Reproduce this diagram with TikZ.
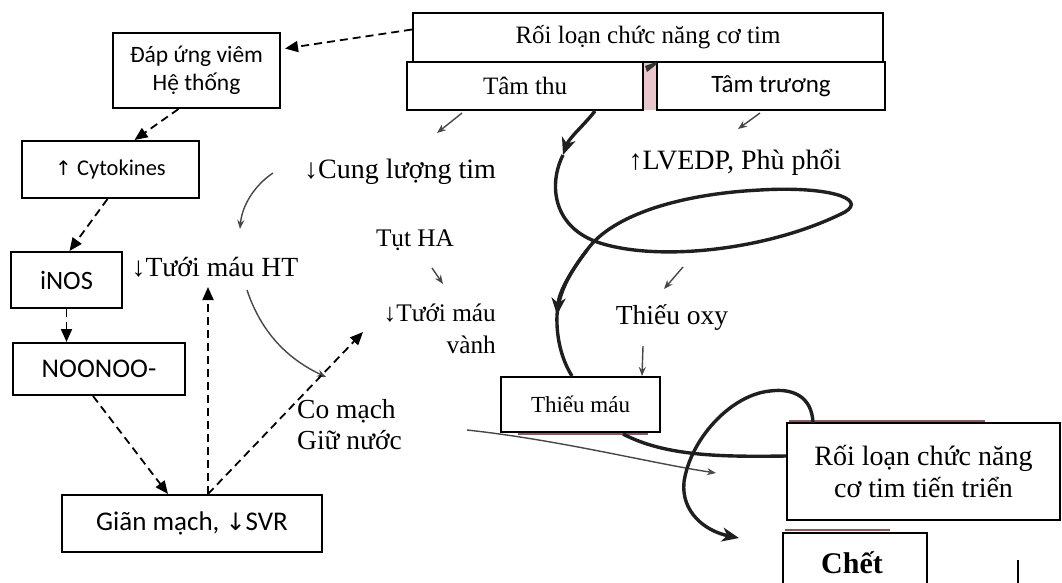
\documentclass[tikz,border=0pt]{standalone}
\usepackage{fontspec}
\setmainfont{Liberation Serif}
\setsansfont{Carlito}
\newfontfamily\symf{DejaVu Sans}
\usetikzlibrary{arrows.meta}
\definecolor{pinkc}{HTML}{E8C6CB}
\definecolor{shadowc}{HTML}{8A5A60}
\newcommand{\fsz}[1]{\fontsize{#1}{#1}\selectfont}
\begin{document}
\begin{tikzpicture}[x=1pt,y=-1pt,
 box/.style={draw=black,line width=2pt,fill=white,inner sep=0pt,align=center},
 lbl/.style={inner sep=1pt,align=center},
 dasharrow/.style={draw=black,line width=1.8pt,dash pattern=on 8pt off 5pt,-{Triangle[length=13pt,width=11pt]}},
 thinarrow/.style={draw=black!72,line width=1.4pt,-{Stealth[length=9pt,width=7pt]}},
 thickline/.style={draw=black!88,line width=3.4pt},
 thicktip/.style={thickline,-{Stealth[length=17pt,width=14pt,inset=5pt]}},
 ]
\clip (0,0) rectangle (1062,582);
\fill[white] (0,0) rectangle (1062,582);

% top boxes
\fill[pinkc] (643,62) rectangle (657,110);
\node[box,font=\fsz{25},minimum width=470pt,minimum height=49pt] (top) at (648,37.5) {Rối loạn chức năng cơ tim};
\node[box,font=\fsz{25},minimum width=236pt,minimum height=48pt] (sys) at (525,86) {Tâm thu};
\node[box,font=\sffamily\fsz{25},minimum width=228pt,minimum height=48pt] (dia) at (771,86) {Tâm trương};
\fill[black!80] (647,72) -- (645,66) -- (656,62) -- (657,64) -- cycle;

% left column
\node[box,font=\sffamily\fontsize{23.5}{28}\selectfont,minimum width=167pt,minimum height=75pt] (dap) at (196.5,70.5) {Đáp ứng viêm\\Hệ thống};
\node[box,font=\sffamily\fsz{22.5},minimum width=177pt,minimum height=57pt] (cyto) at (110.5,169.5) {{\symf\fsz{20}↑} Cytokines};
\node[box,font=\sffamily\fsz{26.5},minimum width=111pt,minimum height=56pt] (inos) at (66.5,280) {iNOS};
\node[box,font=\sffamily\fsz{27},minimum width=172pt,minimum height=52pt] (noo) at (99,369) {NOONOO-};
\node[box,font=\sffamily\fsz{27},minimum width=260pt,minimum height=57pt] (gian) at (192,523.5) {Giãn mạch, {\symf\fsz{24}↓}SVR};

% middle labels
\node[lbl,font=\fsz{28}] (cung) at (400,172) {↓Cung lượng tim};
\node[lbl,font=\fsz{25.3}] (tut) at (415,240) {Tụt HA};
\node[lbl,font=\fsz{27.7}] (tmht) at (215,267) {↓Tưới máu HT};
\node[lbl,align=right,anchor=east,font=\fontsize{25.3}{32}\selectfont] (tmv) at (497,329) {↓Tưới máu\\vành};
\node[lbl,align=left,anchor=west,font=\fontsize{27.5}{31}\selectfont] (comach) at (296,425) {Co mạch\\Giữ nước};
\node[lbl,font=\fsz{28}] (lvedp) at (735,162) {↑LVEDP, Phù phổi};
\node[lbl,font=\fsz{27.5}] (oxy) at (672,318) {Thiếu oxy};

% right boxes
\draw[shadowc,line width=2pt] (518,434) -- (648,434);
\node[box,font=\fsz{23},minimum width=159pt,minimum height=55pt] (tmau) at (580.5,404.5) {Thiếu máu};
\draw[shadowc,line width=2pt] (789,421) -- (985,421);
\draw[shadowc,line width=2pt] (785,530) -- (890,530);

% thick curve (part 1): Tam thu -> loop -> Thieu mau
\coordinate (s1) at (595,111);
\coordinate (m1) at (563,155);
\coordinate (m2) at (557,315);
\draw[thicktip] (s1) .. controls (585,124) and (569,138) .. (m1);
\draw[thickline] (m1) .. controls (548,185) and (553,228) .. (600,243)
   .. controls (660,262) and (770,250) .. (845,212)
   .. controls (868,198) and (825,186) .. (760,190)
   .. controls (680,194) and (612,215) .. (587,250)
   .. controls (568,275) and (559,293) .. (m2);
\draw[thicktip] (587,250) .. controls (568,275) and (559,293) .. (m2);
\draw[thickline] (m2) .. controls (556,340) and (563,362) .. (tmau.north -| 572,0);

% thin arrows
\draw[thinarrow] (462,113) -- (437,133);
\draw[thinarrow] (760,113) -- (738,129);
\draw[thinarrow] (273,173) .. controls (255,185) and (242,205) .. (240,229);
\draw[thinarrow] (247,290) .. controls (262,335) and (290,360) .. (326,377);
\draw[thinarrow] (432,268) -- (443,284);
\draw[thinarrow] (683,267) -- (664,289);
\draw[thinarrow] (643,346) -- (642,376);

% dashed arrows
\draw[dasharrow] ([yshift=8pt]top.west) -- ([yshift=22pt,xshift=4pt]dap.east);
\draw[dasharrow] ([xshift=-18pt]dap.south) -- ([xshift=24pt]cyto.north);
\draw[dasharrow] ([xshift=-3pt]cyto.south) -- ([xshift=3pt]inos.north);
\draw[dasharrow] (inos.south) -- (inos.south |- noo.north);
\draw[dasharrow] ([xshift=-6pt]noo.south) -- ([xshift=-24pt]gian.north);
\coordinate (gtop) at ([xshift=16pt]gian.north);
\draw[dasharrow] (gtop) -- (gtop |- 0,287);
\draw[dasharrow] (gtop) -- (363,332);

\node[box,minimum width=273pt,minimum height=97pt,font=\fontsize{28}{32}\selectfont] (prog) at (923.5,471.5) {Rối loạn chức năng\\cơ tim tiến triển};

% long thin arrow to prog
\coordinate (lstart) at (467,430);
\draw[thinarrow] (lstart) .. controls (560,440) and (650,463) .. (716,473);

% thick curve part 2: Thieu mau -> prog
\draw[thickline] (623,434) .. controls (665,456) and (720,457) .. (prog.west |- 0,456);
% thick curve part 3: prog -> Chet
\draw[thicktip] (813,423) .. controls (812,396) and (792,388) .. (770,391)
   .. controls (730,395) and (690,440) .. (684,482)
   .. controls (681,512) and (705,531) .. (739,538);

\node[box,minimum width=144pt,minimum height=70pt,anchor=north] (chet) at (855,532) {};
\node[lbl,font=\bfseries\fsz{30}] (chettext) at (852,563) {Chết};
\draw[black,line width=1.6pt] (1018,560) -- (1018,590);
\end{tikzpicture}
\end{document}
